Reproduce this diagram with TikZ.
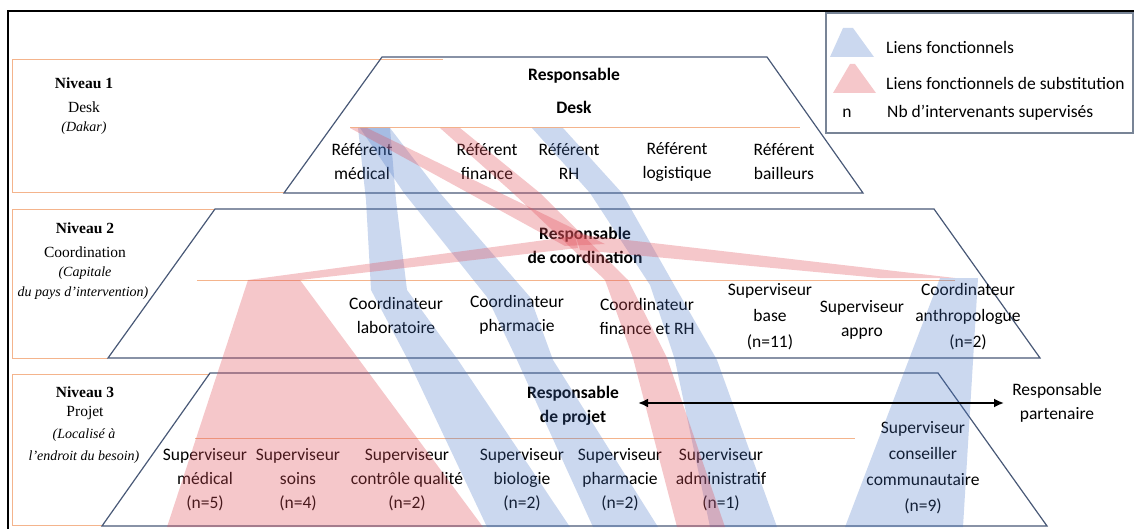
\documentclass[tikz,border=0pt]{standalone}
\usepackage{fontspec}
\setmainfont{Carlito}
\newfontfamily\serifrm{Liberation Serif}
\usetikzlibrary{arrows.meta}

\definecolor{trapline}{RGB}{72,88,118}
\definecolor{peach}{RGB}{244,180,140}
\definecolor{bandblue}{RGB}{68,114,196}
\definecolor{bandred}{RGB}{225,80,90}
\definecolor{legframe}{RGB}{120,132,150}

\tikzset{
  lbl/.style={font=\fontsize{17.5}{24}\selectfont, align=center, inner sep=0pt},
  lblb/.style={lbl, font=\fontsize{17.5}{24}\selectfont\bfseries},
  lvl/.style={font=\serifrm\fontsize{15.5}{18}\selectfont, inner sep=0pt},
  lvlb/.style={font=\serifrm\fontsize{15.5}{18}\selectfont\bfseries, inner sep=0pt},
  lvli/.style={font=\serifrm\fontsize{14}{16}\selectfont\itshape, inner sep=0pt},
  trap/.style={draw=trapline, line width=1.2pt, line join=miter},
  peachline/.style={draw=peach, line width=1pt},
  blueband/.style={fill=bandblue, fill opacity=0.28},
  redband/.style={fill=bandred, fill opacity=0.32},
  biarrow/.style={{Latex[length=10pt,width=9pt]}-{Latex[length=10pt,width=9pt]}, line width=2.6pt}
}

\begin{document}
\begin{tikzpicture}[x=1pt,y=-1pt]
\useasboundingbox (0,0) rectangle (1134,529);

% outer frame
\draw[line width=2pt] (8,529) -- (8,11) -- (1134,11);

% level frames on the left
\draw[peachline] (443,60) -- (12,60) -- (12,193) -- (284,193);
\draw[peachline] (215,210) -- (12,210) -- (12,358) -- (108,358);
\draw[peachline] (210,374) -- (12,374) -- (12,525) -- (102,525);

% separators inside each level
\draw[peachline] (350,128) -- (800,128);
\draw[peachline] (197,280) -- (955,280);
\draw[peachline] (195,438) -- (855,438);

% the three levels
\draw[trap] (284,193) -- (382,57) -- (767,57) -- (863,193) -- cycle;
\draw[trap] (108,358) -- (215,209) -- (934,209) -- (1040,358) -- cycle;
\draw[trap] (102,526) -- (210,373) -- (938,373) -- (1047,526) -- cycle;

% level captions
\node[lvlb] (nivone) at (84,83) {Niveau 1};
\node[lvl] (deskzone) at (84,107) {Desk};
\node[lvli] (dakar) at (84,128) {(Dakar)};
\node[lvlb] (nivtwo) at (85,228) {Niveau 2};
\node[lvl] (coordzone) at (85,252) {Coordination};
\node[lvli] (capitale) at (85,273) {(Capitale};
\node[lvli] (paysint) at (83,293) {du pays d’intervention)};
\node[lvlb] (nivthree) at (85,392) {Niveau 3};
\node[lvl] (projzone) at (85,413) {Projet};
\node[lvli] (localise) at (84,435) {(Localisé à};
\node[lvli] (endroit) at (84,457) {l’endroit du besoin)};

% level 1: desk
\node[lblb] (respdesk) at (574,91) {Responsable\\[9pt]Desk};
\node[lbl] (refmed) at (362,162) {Référent\\médical};
\node[lbl] (reffin) at (487,162) {Référent\\finance};
\node[lbl] (refrh) at (569,162) {Référent\\RH};
\node[lbl] (reflog) at (677,162) {Référent\\logistique};
\node[lbl] (refbail) at (784,162) {Référent\\bailleurs};

% level 2: coordination
\node[lblb] (respcoord) at (585,245.5) {Responsable\\de coordination};
\node[lbl] (coordlabo) at (396,315) {Coordinateur\\laboratoire};
\node[lbl] (coordpharma) at (517,315) {Coordinateur\\pharmacie};
\node[lbl] (coordfin) at (647,316) {Coordinateur\\finance et RH};
\node[lbl] (supbase) at (770,317) {Superviseur\\[2pt]base\\[2pt](n=11)};
\node[lbl] (supappro) at (862,319.5) {Superviseur\\appro};
\node[lbl] (coordanthro) at (968,316.5) {Coordinateur\\[2pt]anthropologue\\[2pt](n=2)};

% level 3: project
\node[lblb] (respprojet) at (573,406) {Responsable\\de projet};
\node[lbl] (partner) at (1057,403) {Responsable\\partenaire};
\node[lbl] (supmed) at (205,479.5) {Superviseur\\médical\\(n=5)};
\node[lbl] (supsoins) at (298,479.5) {Superviseur\\soins\\(n=4)};
\node[lbl] (supcq) at (407,479.5) {Superviseur\\contrôle qualité\\(n=2)};
\node[lbl] (supbio) at (522,479.5) {Superviseur\\biologie\\(n=2)};
\node[lbl] (suppharma) at (620,479.5) {Superviseur\\pharmacie\\(n=2)};
\node[lbl] (supadmin) at (721,479.5) {Superviseur\\administratif\\(n=1)};
\node[lbl] (supcomm) at (923,467.5) {Superviseur\\[2pt]conseiller\\[2pt]communautaire\\[2pt](n=9)};

% functional links
\fill[blueband] (358,128) -- (366,200) -- (371,290) -- (408,360) -- (487,527)
  -- (570,527) -- (458,360) -- (407,290) -- (396,200) -- (390,128) -- cycle;
\fill[blueband] (360,128) -- (404,193) -- (487,297) -- (517,360) -- (593,527)
  -- (658,527) -- (553,360) -- (530,297) -- (440,193) -- (390,128) -- cycle;
\fill[blueband] (532,128) -- (590,193) -- (650,285) -- (675,360) -- (710,527)
  -- (777,527) -- (717,360) -- (677,290) -- (622,193) -- (563,128) -- cycle;
\fill[blueband] (940,278) -- (845,527) -- (963,527) -- (978,278) -- cycle;

% substitution links
\fill[redband] (350,128) -- (367,128) -- (605,244) -- (565,246) -- cycle;
\fill[redband] (440,128) -- (513,193) -- (605,280) -- (633,358) -- (677,527)
  -- (725,527) -- (667,358) -- (628,280) -- (540,193) -- (460,128) -- cycle;
\fill[redband] (248,280) -- (575,236) -- (578,248) -- (300,280) -- cycle;
\fill[redband] (575,234) -- (955,278) -- (880,278) -- (580,250) -- cycle;
\fill[redband] (248,280) -- (300,280) -- (483,527) -- (167,527) -- cycle;

% link with the partner
\draw[biarrow, shorten <=19pt, shorten >=8pt] (respprojet.east |- partner.west) -- (partner.west);

% legend
\draw[draw=legframe, line width=1.5pt] (826,13) rectangle (1133,133);
\fill[blueband] (830,57) -- (843,28) -- (853,28) -- (874,57) -- cycle;
\fill[redband] (833,93) -- (850,64) -- (855,64) -- (876,93) -- cycle;
\node[lbl, anchor=west] (legblue) at (886,47) {Liens fonctionnels};
\node[lbl, anchor=west] (legred) at (886,83) {Liens fonctionnels de substitution};
\node[lbl] (legn) at (847,113) {n};
\node[lbl, anchor=west] (legnb) at (887,113) {Nb d’intervenants supervisés};
\end{tikzpicture}
\end{document}
